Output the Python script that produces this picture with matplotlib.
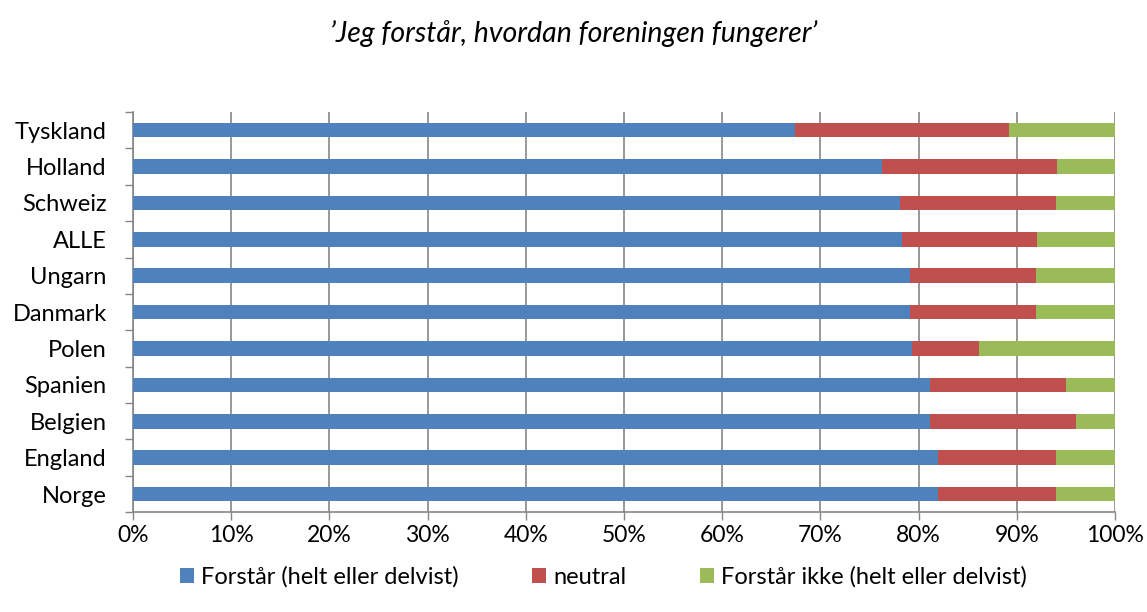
import numpy as np
import matplotlib.pyplot as plt
from matplotlib.ticker import FixedLocator, PercentFormatter

plt.rcParams['font.family'] = ['Lato', 'DejaVu Sans']

# data, bottom to top
countries = ['Norge', 'England', 'Belgien', 'Spanien', 'Polen', 'Danmark',
             'Ungarn', 'ALLE', 'Schweiz', 'Holland', 'Tyskland']
forstaar = [82.0, 82.0, 81.2, 81.2, 79.3, 79.1, 79.1, 78.3, 78.1, 76.3, 67.4]
neutral = [12.0, 12.0, 14.8, 13.8, 6.9, 12.9, 12.9, 13.8, 15.9, 17.8, 21.8]
ikke = [100 - a - b for a, b in zip(forstaar, neutral)]

labels = ['Forstår (helt eller delvist)', 'neutral', 'Forstår ikke (helt eller delvist)']
colors = ['#4F81BD', '#C0504D', '#9BBB59']

fig = plt.figure(figsize=(11.47, 6.12), dpi=100)
ax = fig.add_axes([0.116, 0.163, 0.856, 0.654])

y = np.arange(len(countries))
left = np.zeros(len(countries))
for vals, lab, col in zip([forstaar, neutral, ikke], labels, colors):
    ax.barh(y, vals, left=left, height=0.4, color=col, label=lab, zorder=3)
    left += np.array(vals)

ax.set_xlim(0, 100)
ax.set_ylim(-0.5, len(countries) - 0.5)
ax.set_xticks(np.arange(0, 101, 10))
ax.xaxis.set_major_formatter(PercentFormatter(decimals=0))
ax.set_yticks(y)
ax.set_yticklabels(countries)
ax.yaxis.set_minor_locator(FixedLocator(np.arange(-0.5, len(countries), 1)))
ax.tick_params(axis='y', which='major', length=0, pad=19, labelsize=17)
ax.tick_params(axis='y', which='minor', length=6, color='#868686', width=1)
ax.tick_params(axis='x', length=6, color='#868686', width=1, labelsize=16.5, pad=3)

ax.grid(axis='x', color='#868686', linewidth=1.2, zorder=0)
for s in ['top', 'right']:
    ax.spines[s].set_visible(False)
for s in ['left', 'bottom']:
    ax.spines[s].set_color('#868686')
    ax.spines[s].set_linewidth(1.2)

fig.text(0.5, 0.945, '’Jeg forstår, hvordan foreningen fungerer’',
         ha='center', va='center', fontsize=20.5, style='italic')

fig.legend(loc='center', bbox_to_anchor=(0.526, 0.057), ncol=3, frameon=False,
           fontsize=17, handlelength=0.6, handleheight=0.6, handletextpad=0.3,
           columnspacing=3.1)

fig.savefig('out.png', dpi=100)
